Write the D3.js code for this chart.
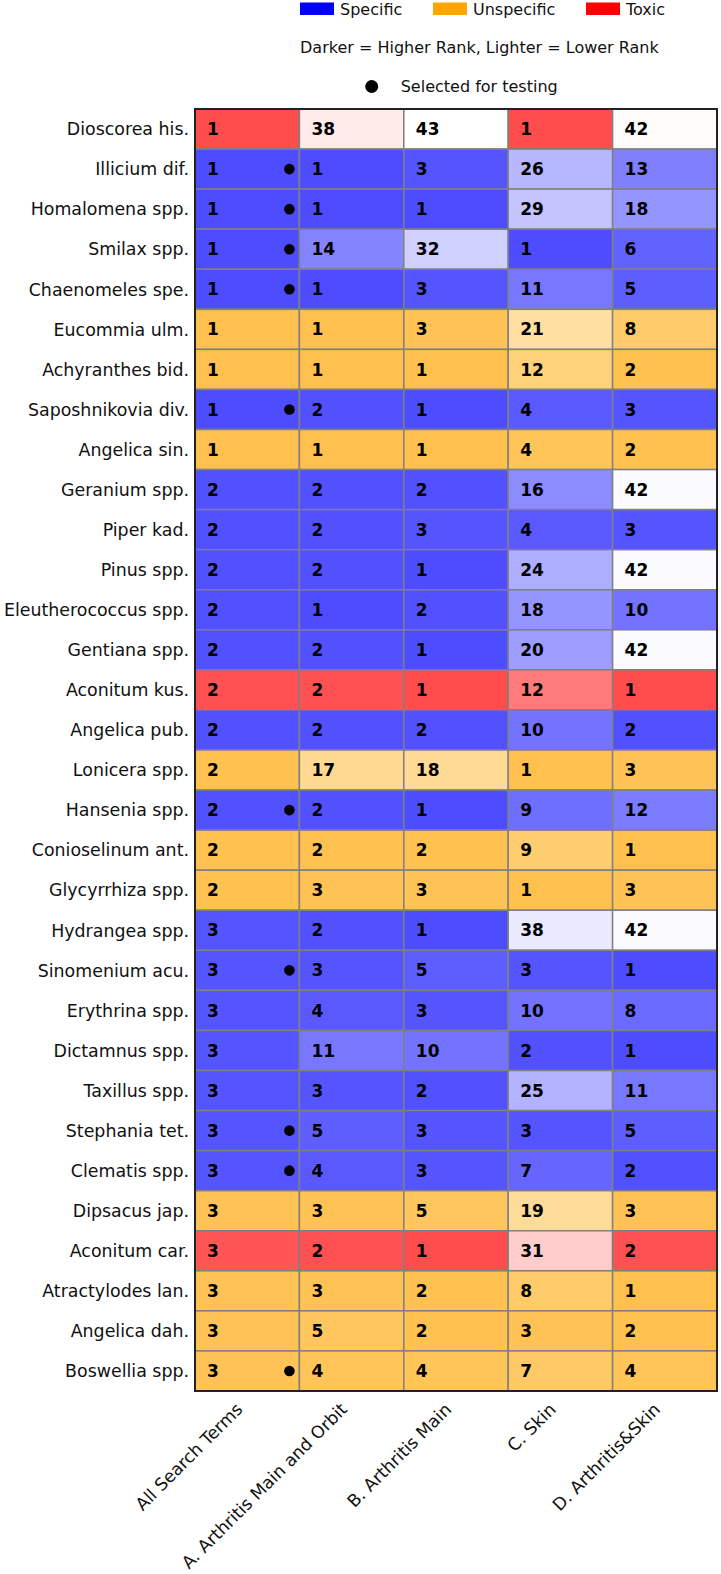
<!DOCTYPE html>
<html>
<head>
<meta charset="utf-8">
<script src="https://cdn.jsdelivr.net/npm/d3@7"></script>
<style>
  body { margin: 0; background: #fff; }
  svg { display: block; font-family: "DejaVu Sans", sans-serif; }
</style>
</head>
<body>
<div id="chart"></div>
<script>
// herbs top to bottom
const herbs = [
  'Dioscorea his.', 'Illicium dif.', 'Homalomena spp.', 'Smilax spp.', 'Chaenomeles spe.',
  'Eucommia ulm.', 'Achyranthes bid.', 'Saposhnikovia div.', 'Angelica sin.', 'Geranium spp.',
  'Piper kad.', 'Pinus spp.', 'Eleutherococcus spp.', 'Gentiana spp.', 'Aconitum kus.',
  'Angelica pub.', 'Lonicera spp.', 'Hansenia spp.', 'Conioselinum ant.', 'Glycyrrhiza spp.',
  'Hydrangea spp.', 'Sinomenium acu.', 'Erythrina spp.', 'Dictamnus spp.', 'Taxillus spp.',
  'Stephania tet.', 'Clematis spp.', 'Dipsacus jap.', 'Aconitum car.', 'Atractylodes lan.',
  'Angelica dah.', 'Boswellia spp.'
]
const herbGroup = [
  'Toxic', 'Specific', 'Specific', 'Specific', 'Specific',
  'Unspecific', 'Unspecific', 'Specific', 'Unspecific', 'Specific',
  'Specific', 'Specific', 'Specific', 'Specific', 'Toxic',
  'Specific', 'Unspecific', 'Specific', 'Unspecific', 'Unspecific',
  'Specific', 'Specific', 'Specific', 'Specific', 'Specific',
  'Specific', 'Specific', 'Unspecific', 'Toxic', 'Unspecific',
  'Unspecific', 'Unspecific'
]
const selected = [
  'Illicium dif.', 'Homalomena spp.', 'Smilax spp.', 'Chaenomeles spe.', 'Saposhnikovia div.',
  'Hansenia spp.', 'Sinomenium acu.', 'Stephania tet.', 'Clematis spp.', 'Boswellia spp.'
]

const columns = ['All Search Terms', 'A. Arthritis Main and Orbit', 'B. Arthritis Main', 'C. Skin', 'D. Arthritis&Skin']

// ranks per column
const rankAll = [1, 1, 1, 1, 1, 1, 1, 1, 1, 2, 2, 2, 2, 2, 2, 2, 2, 2, 2, 2, 3, 3, 3, 3, 3, 3, 3, 3, 3, 3, 3, 3]
const rankA = [38, 1, 1, 14, 1, 1, 1, 2, 1, 2, 2, 2, 1, 2, 2, 2, 17, 2, 2, 3, 2, 3, 4, 11, 3, 5, 4, 3, 2, 3, 5, 4]
const rankB = [43, 3, 1, 32, 3, 3, 1, 1, 1, 2, 3, 1, 2, 1, 1, 2, 18, 1, 2, 3, 1, 5, 3, 10, 2, 3, 3, 5, 1, 2, 2, 4]
const rankC = [1, 26, 29, 1, 11, 21, 12, 4, 4, 16, 4, 24, 18, 20, 12, 10, 1, 9, 9, 1, 38, 3, 10, 2, 25, 3, 7, 19, 31, 8, 3, 7]
const rankD = [42, 13, 18, 6, 5, 8, 2, 3, 2, 42, 3, 42, 10, 42, 1, 2, 3, 12, 1, 3, 42, 1, 8, 1, 11, 5, 2, 3, 2, 1, 2, 4]

const legendGroups = ['Specific', 'Unspecific', 'Toxic']
const groupColors = ['#0000ff', '#ffa500', '#ff0000']

const width = 721
const height = 1574
const margin = { top: 109, left: 195, right: 4, bottom: 183 }

const svg = d3.select('#chart')
  .append('svg')
  .attr('width', width)
  .attr('height', height)

const x = d3.scaleBand()
  .domain(columns)
  .range([margin.left, width - margin.right])
const y = d3.scaleBand()
  .domain(herbs)
  .range([margin.top, height - margin.bottom])
const color = d3.scaleOrdinal().domain(legendGroups).range(groupColors)
// darker = higher rank
const opacity = d3.scaleLinear().domain([1, 43]).range([0.7, 0])

const rankCols = [rankAll, rankA, rankB, rankC, rankD]
const cells = []
herbs.forEach((h, i) => {
  columns.forEach((c, j) => {
    cells.push({ herb: h, col: c, group: herbGroup[i], rank: rankCols[j][i] })
  })
})

const grid = svg.append('g').attr('class', 'cells')
grid.selectAll('rect')
  .data(cells)
  .join('rect')
  .attr('x', (d) => x(d.col))
  .attr('y', (d) => y(d.herb))
  .attr('width', x.bandwidth())
  .attr('height', y.bandwidth())
  .attr('fill', (d) => d3.interpolateRgb('#ffffff', color(d.group))(opacity(d.rank)))
  .attr('stroke', '#808080')
  .attr('stroke-width', 1.5)

grid.selectAll('text')
  .data(cells)
  .join('text')
  .attr('x', (d) => x(d.col) + 12)
  .attr('y', (d) => y(d.herb) + y.bandwidth() / 2)
  .attr('dy', '0.36em')
  .attr('font-size', 17)
  .attr('font-weight', 'bold')
  .attr('fill', '#000')
  .text((d) => d.rank)

// selected dots in first column
svg.append('g')
  .selectAll('circle')
  .data(selected)
  .join('circle')
  .attr('cx', x(columns[0]) + x.bandwidth() - 10)
  .attr('cy', (d) => y(d) + y.bandwidth() / 2)
  .attr('r', 5.3)
  .attr('fill', '#000')

// frame
svg.append('rect')
  .attr('x', margin.left)
  .attr('y', margin.top)
  .attr('width', width - margin.right - margin.left)
  .attr('height', height - margin.bottom - margin.top)
  .attr('fill', 'none')
  .attr('stroke', '#222')
  .attr('stroke-width', 2)

// row labels
svg.append('g')
  .selectAll('text')
  .data(herbs)
  .join('text')
  .attr('x', margin.left - 6)
  .attr('y', (d) => y(d) + y.bandwidth() / 2)
  .attr('dy', '0.36em')
  .attr('text-anchor', 'end')
  .attr('font-size', 17.4)
  .attr('fill', '#111')
  .text((d) => d)

// column labels
svg.append('g')
  .selectAll('text')
  .data(columns)
  .join('text')
  .attr('transform', (d) => `translate(${x(d) + x.bandwidth() / 2 - 3.5},${height - margin.bottom + 19.5}) rotate(-45)`)
  .attr('text-anchor', 'end')
  .attr('font-size', 17.3)
  .attr('fill', '#111')
  .text((d) => d)

// legend
const legend = svg.append('g').attr('font-size', 16).attr('fill', '#111')
const legendX = [300, 433, 586]
legendGroups.forEach((g, i) => {
  legend.append('rect')
    .attr('x', legendX[i])
    .attr('y', 2.5)
    .attr('width', 34)
    .attr('height', 12.5)
    .attr('fill', color(g))
  legend.append('text')
    .attr('x', legendX[i] + 40)
    .attr('y', 15)
    .text(g)
})
legend.append('text')
  .attr('x', 300)
  .attr('y', 53)
  .text('Darker = Higher Rank, Lighter = Lower Rank')
legend.append('circle')
  .attr('cx', 371.7)
  .attr('cy', 86.5)
  .attr('r', 6.5)
  .attr('fill', '#000')
legend.append('text')
  .attr('x', 400.7)
  .attr('y', 92)
  .text('Selected for testing')
</script>
</body>
</html>
